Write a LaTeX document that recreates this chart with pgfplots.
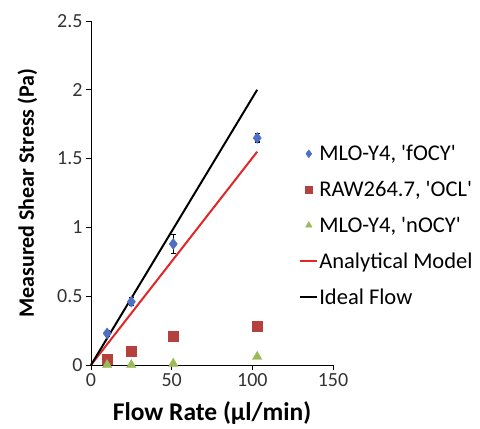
\documentclass[border=0pt]{standalone}
\usepackage{fontspec}
\setmainfont{Carlito}
\usepackage{pgfplots}
\pgfplotsset{compat=1.18}
\definecolor{fblue}{HTML}{4F6FC4}
\definecolor{ocl}{HTML}{B5413F}
\definecolor{ngreen}{HTML}{9BBB59}
\definecolor{model}{HTML}{E02626}
\newcommand{\q}{\textquotesingle}
\begin{document}
\begin{tikzpicture}
\path[use as bounding box] (-91bp,-64bp) rectangle (389bp,365bp);
\begin{axis}[
  scale only axis, at={(0,0)}, anchor=south west,
  width=242bp, height=344bp,
  xmin=0, xmax=150, ymin=0, ymax=2.5,
  xtick={0,50,100,150}, ytick={0,0.5,1,1.5,2,2.5},
  axis lines=left, axis line style={line width=1pt,-},
  tick align=outside, tick style={black,line width=0.9pt},
  major tick length=5bp,
  tick label style={font=\fontsize{20bp}{22bp}\selectfont, text=black!80},
  /pgf/number format/assume math mode=true,
  xlabel={\textbf{Flow Rate (µl/min)}},
  ylabel={\textbf{Measured Shear Stress (Pa)}},
  label style={font=\fontsize{22bp}{24bp}\selectfont},
  xlabel style={yshift=-8bp, font=\fontsize{25.5bp}{27bp}\selectfont},
  ylabel style={yshift=13bp},
  clip=false,
  legend cell align=left,
  legend style={at={(0.86,0.642)}, anchor=north west, draw=none, fill=none,
    font=\fontsize{22.5bp}{24bp}\selectfont, row sep=17bp,
    inner sep=0pt, nodes={inner sep=1pt}},
]
\addplot[only marks, mark=diamond*, mark size=5.5pt, color=fblue,
  legend image post style={mark size=4pt},
  error bars/.cd, y dir=both, y explicit, error bar style={black,line width=1.3pt},
  error mark options={rotate=90, mark size=2.5pt, black, line width=1.3pt}]
  coordinates {(10,0.23) +- (0,0.02) (25,0.46) +- (0,0.03) (51,0.88) +- (0,0.07) (103,1.65) +- (0,0.03)};
\addlegendentry{MLO-Y4, \q fOCY\q}
\addplot[only marks, mark=square*, mark size=5pt, color=ocl,
  legend image post style={mark size=3.3pt}]
  coordinates {(10,0.04) (25,0.10) (51,0.21) (103,0.28)};
\addlegendentry{RAW264.7, \q OCL\q}
\addplot[only marks, mark=triangle*, mark size=5.5pt, color=ngreen,
  legend image post style={mark size=3.8pt}]
  coordinates {(10,0.0) (25,0.0) (51,0.01) (103,0.06)};
\addlegendentry{MLO-Y4, \q nOCY\q}
\addplot[model, line width=2pt] coordinates {(0,0) (103,1.55)};
\addlegendentry{Analytical Model}
\addplot[black, line width=2pt] coordinates {(0,0) (103,2.0)};
\addlegendentry{Ideal Flow}
\end{axis}
\end{tikzpicture}
\end{document}
